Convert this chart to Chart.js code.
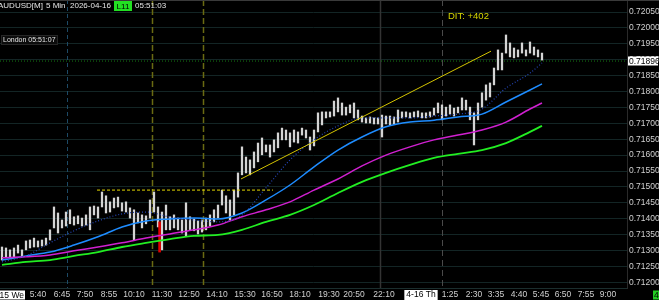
<!DOCTYPE html>
<html>
<head>
<meta charset="utf-8">
<script src="https://cdn.jsdelivr.net/npm/chart.js@4"></script>
<style>
  body { margin: 0; background: #000; }
  canvas { display: block; }
</style>
</head>
<body>
<canvas id="chart" width="659" height="300"></canvas>
<script>
// AUDUSD 5 min bars, high / low per bar
const highs = [
  0.71311, 0.71308, 0.71302, 0.71308, 0.71317, 0.71302, 0.71330, 0.71333, 0.71339, 0.71330,
  0.71333, 0.71339, 0.71365, 0.71437, 0.71418, 0.71396, 0.71421, 0.71428, 0.71406, 0.71409,
  0.71402, 0.71412, 0.71437, 0.71440, 0.71437, 0.71484, 0.71472, 0.71453, 0.71465, 0.71468,
  0.71450, 0.71453, 0.71434, 0.71428, 0.71418, 0.71412, 0.71409, 0.71459, 0.71484, 0.71437,
  0.71421, 0.71443, 0.71406, 0.71412, 0.71402, 0.71396, 0.71450, 0.71406, 0.71399, 0.71393,
  0.71396, 0.71402, 0.71412, 0.71428, 0.71443, 0.71490, 0.71472, 0.71459, 0.71490, 0.71544,
  0.71626, 0.71594, 0.71585, 0.71610, 0.71638, 0.71654, 0.71632, 0.71632, 0.71648, 0.71670,
  0.71685, 0.71679, 0.71670, 0.71679, 0.71673, 0.71685, 0.71679, 0.71657, 0.71679, 0.71733,
  0.71736, 0.71736, 0.71736, 0.71770, 0.71780, 0.71764, 0.71751, 0.71758, 0.71764, 0.71742,
  0.71723, 0.71717, 0.71720, 0.71717, 0.71717, 0.71726, 0.71723, 0.71723, 0.71720, 0.71742,
  0.71736, 0.71736, 0.71733, 0.71736, 0.71739, 0.71733, 0.71733, 0.71736, 0.71748, 0.71764,
  0.71758, 0.71751, 0.71758, 0.71748, 0.71751, 0.71780, 0.71773, 0.71751, 0.71733, 0.71764,
  0.71796, 0.71821, 0.71827, 0.71874, 0.71931, 0.71921, 0.71978, 0.71953, 0.71937, 0.71931,
  0.71953, 0.71931, 0.71956, 0.71940, 0.71931, 0.71921
];
const lows = [
  0.71270, 0.71277, 0.71277, 0.71280, 0.71292, 0.71280, 0.71302, 0.71308, 0.71311, 0.71311,
  0.71314, 0.71317, 0.71333, 0.71371, 0.71355, 0.71371, 0.71377, 0.71384, 0.71380, 0.71384,
  0.71377, 0.71380, 0.71365, 0.71412, 0.71402, 0.71437, 0.71418, 0.71421, 0.71434, 0.71437,
  0.71424, 0.71421, 0.71402, 0.71333, 0.71387, 0.71371, 0.71384, 0.71402, 0.71421, 0.71374,
  0.71302, 0.71365, 0.71365, 0.71371, 0.71365, 0.71355, 0.71346, 0.71365, 0.71362, 0.71352,
  0.71358, 0.71365, 0.71377, 0.71390, 0.71402, 0.71443, 0.71418, 0.71396, 0.71412, 0.71468,
  0.71538, 0.71544, 0.71538, 0.71560, 0.71579, 0.71601, 0.71610, 0.71594, 0.71610, 0.71623,
  0.71648, 0.71648, 0.71626, 0.71641, 0.71638, 0.71663, 0.71654, 0.71616, 0.71629, 0.71673,
  0.71695, 0.71717, 0.71720, 0.71723, 0.71736, 0.71726, 0.71726, 0.71733, 0.71717, 0.71711,
  0.71704, 0.71701, 0.71701, 0.71698, 0.71698, 0.71657, 0.71698, 0.71695, 0.71698, 0.71704,
  0.71717, 0.71720, 0.71717, 0.71720, 0.71720, 0.71717, 0.71717, 0.71720, 0.71726, 0.71733,
  0.71711, 0.71723, 0.71729, 0.71723, 0.71733, 0.71742, 0.71742, 0.71711, 0.71632, 0.71711,
  0.71751, 0.71773, 0.71783, 0.71821, 0.71868, 0.71868, 0.71921, 0.71909, 0.71906, 0.71909,
  0.71921, 0.71912, 0.71921, 0.71915, 0.71909, 0.71899
];

// moving averages, sampled every 6 bars
const maIdx = [0, 6, 12, 18, 24, 30, 36, 42, 48, 54, 60, 66, 72, 78, 84, 90, 96, 102, 108, 114, 120, 126, 132, 135];
const maFast = [
  0.71264, 0.71283, 0.71324, 0.71362, 0.71393, 0.71415, 0.71421, 0.71405, 0.71396, 0.71390,
  0.71412, 0.71497, 0.71585, 0.71648, 0.71692, 0.71717, 0.71717, 0.71717, 0.71723, 0.71729,
  0.71745, 0.71811, 0.71858, 0.71890
];
const maBlue = [
  0.71270, 0.71283, 0.71295, 0.71317, 0.71343, 0.71374, 0.71393, 0.71399, 0.71402, 0.71399,
  0.71418, 0.71459, 0.71506, 0.71563, 0.71616, 0.71657, 0.71689, 0.71704, 0.71710, 0.71720,
  0.71729, 0.71767, 0.71805, 0.71824
];
const maMagenta = [
  0.71277, 0.71280, 0.71286, 0.71299, 0.71311, 0.71324, 0.71339, 0.71352, 0.71365, 0.71380,
  0.71406, 0.71428, 0.71453, 0.71490, 0.71525, 0.71566, 0.71600, 0.71626, 0.71648, 0.71663,
  0.71679, 0.71704, 0.71745, 0.71764
];
const maGreen = [
  0.71255, 0.71264, 0.71270, 0.71283, 0.71295, 0.71311, 0.71324, 0.71336, 0.71346, 0.71349,
  0.71365, 0.71390, 0.71412, 0.71443, 0.71481, 0.71516, 0.71544, 0.71569, 0.71591, 0.71604,
  0.71616, 0.71638, 0.71673, 0.71692
];

// drawn objects
const levelIdx = [23.75, 67.75];
const levelPrice = [0.71490, 0.71490];
const trendIdx = [59.75, 122.25];
const trendPrice = [0.71525, 0.71927];
const signalIdx = 39.4;
const signalRange = [0.71295, 0.71390];
const sessionMarks = [16.25, 37.4, 50.25, 94.5, 110];
const lastPrice = 0.71896;

// axes
const timeIdx = [9, 15, 20.75, 26.75, 33, 40, 46.75, 53.75, 60.75, 67.5, 74.5, 81.75, 88, 95.5,
  104.75, 112, 118, 123.5, 129.25, 134.75, 140.25, 146, 151.5];
const timeLabels = ['5:40', '6:45', '7:50', '8:55', '10:10', '11:30', '12:50', '14:10', '15:30',
  '16:50', '18:10', '19:30', '20:50', '22:10', '4-16 Th', '1:25', '2:30', '3:35', '4:40', '5:45',
  '6:50', '7:55', '9:00'];
const priceTicks = [0.712, 0.7125, 0.713, 0.7135, 0.714, 0.7145, 0.715, 0.7155, 0.716,
  0.7165, 0.717, 0.7175, 0.718, 0.7185, 0.719, 0.7195, 0.72, 0.7205];

const X_MIN = -0.5, X_MAX = 156.25;
const FONT = '"Liberation Sans", Arial, sans-serif';

Chart.defaults.font.family = FONT;
Chart.defaults.font.size = 8.5;

const pts = (xs, ys) => xs.map((x, i) => ({ x: x, y: ys[i] }));

function maLine(values, color, width, dash) {
  return {
    type: 'line',
    data: pts(maIdx, values),
    borderColor: color,
    borderWidth: width,
    borderDash: dash || [],
    pointRadius: 0,
    cubicInterpolationMode: 'monotone',
    order: 1
  };
}

const sessionStyles = [
  { color: '#1d4a66', dash: [4, 3], width: 1 },
  { color: '#6a6a12', dash: [6, 3], width: 1.5 },
  { color: '#6a6a12', dash: [6, 3], width: 1.5 },
  { color: '#333333', dash: [], width: 1.5 },
  { color: '#4a4a4a', dash: [6, 4], width: 1 }
];

function box(ctx, x, y, w, h, bg, text, fg, align, tx) {
  ctx.fillStyle = bg;
  ctx.fillRect(x, y, w, h);
  ctx.fillStyle = fg;
  ctx.textAlign = align;
  ctx.fillText(text, tx, y + h / 2 + 0.5);
}

const overlay = {
  id: 'overlay',
  beforeDatasetsDraw(chart) {
    const ctx = chart.ctx;
    const xs = chart.scales.x;
    const area = chart.chartArea;
    ctx.save();
    sessionMarks.forEach((m, i) => {
      const st = sessionStyles[i];
      const px = Math.round(xs.getPixelForValue(m)) + 0.5;
      ctx.strokeStyle = st.color;
      ctx.lineWidth = st.width;
      ctx.setLineDash(st.dash);
      ctx.beginPath();
      ctx.moveTo(px, area.top);
      ctx.lineTo(px, area.bottom);
      ctx.stroke();
    });
    ctx.restore();
  },
  afterDraw(chart) {
    const ctx = chart.ctx;
    const ys = chart.scales.y;
    ctx.save();
    ctx.setLineDash([]);
    ctx.fillStyle = '#3a3a3a';
    ctx.fillRect(0, 0, chart.width, 1);

    ctx.textBaseline = 'middle';
    ctx.font = '8px ' + FONT;
    ctx.textAlign = 'left';
    ctx.fillStyle = '#e6e6e6';
    ctx.fillText('AUDUSD[M]', -2, 6);
    ctx.fillText('5 Min', 46, 6);
    ctx.fillText('2026-04-16', 70, 6);
    ctx.fillText('05:51:03', 135, 6);
    box(ctx, 114, 1, 18, 10, '#22e022', 'L11', '#000', 'center', 123);

    // session clock
    ctx.font = '7px ' + FONT;
    ctx.fillStyle = '#0c0c0c';
    ctx.fillRect(1, 35, 56, 9);
    ctx.strokeStyle = '#262626';
    ctx.lineWidth = 1;
    ctx.strokeRect(1.5, 35.5, 56, 9);
    ctx.fillStyle = '#e6e6e6';
    ctx.textAlign = 'left';
    ctx.fillText('London 05:51:07', 3, 40);

    ctx.font = '9.5px ' + FONT;
    ctx.fillStyle = '#d6d600';
    ctx.fillText('DIT: +402', 448, 16);

    // current price tag
    ctx.font = '8.5px ' + FONT;
    const py = Math.round(ys.getPixelForValue(lastPrice));
    box(ctx, 628, py - 4.5, 30, 9, '#ffffff', lastPrice.toFixed(5), '#000', 'left', 629);

    // date stubs at the bottom corners
    box(ctx, 0, 290.5, 25, 9, '#ffffff', '4-15 We', '#000', 'right', 24);
    box(ctx, 653, 290.5, 6, 9, '#22cc22', '4', '#000', 'left', 654);
    ctx.restore();
  }
};

new Chart(document.getElementById('chart'), {
  type: 'bar',
  data: {
    datasets: [
      {
        data: highs.map((h, i) => ({ x: i, y: [lows[i], h] })),
        backgroundColor: '#d4d4d4',
        barThickness: 1.6,
        grouped: false,
        order: 3
      },
      {
        data: [{ x: signalIdx, y: signalRange }],
        backgroundColor: '#e00000',
        barThickness: 2,
        grouped: false,
        order: 2
      },
      maLine(maFast, '#2446b8', 1.2, [1, 2]),
      maLine(maGreen, '#22ee22', 1.8),
      maLine(maMagenta, '#d020d0', 1.5),
      maLine(maBlue, '#1e8cff', 1.5),
      {
        type: 'line',
        data: pts(levelIdx, levelPrice),
        borderColor: '#e6d800',
        borderWidth: 1,
        borderDash: [3, 2],
        pointRadius: 0,
        order: 0
      },
      {
        type: 'line',
        data: pts(trendIdx, trendPrice),
        borderColor: '#d4c400',
        borderWidth: 1,
        pointRadius: 0,
        order: 0
      },
      {
        type: 'line',
        data: [{ x: X_MIN, y: lastPrice }, { x: X_MAX, y: lastPrice }],
        borderColor: '#167a16',
        borderWidth: 1,
        borderDash: [1, 2],
        pointRadius: 0,
        order: 4
      }
    ]
  },
  options: {
    responsive: false,
    animation: false,
    events: [],
    layout: { padding: 0 },
    plugins: { legend: { display: false }, tooltip: { enabled: false } },
    scales: {
      x: {
        type: 'linear',
        min: X_MIN,
        max: X_MAX,
        offset: false,
        afterBuildTicks: (s) => { s.ticks = timeIdx.map(v => ({ value: v })); },
        afterFit: (s) => { s.height = 12; s.paddingLeft = 0; s.paddingRight = 0; },
        grid: { display: false, drawTicks: false },
        border: { display: true, color: '#1b2e2e' },
        ticks: {
          autoSkip: false,
          maxRotation: 0,
          minRotation: 0,
          padding: 2,
          callback: (v, i) => timeLabels[i],
          color: (c) => timeLabels[c.index] === '4-16 Th' ? '#000' : '#d0d0d0',
          showLabelBackdrop: true,
          backdropColor: (c) => timeLabels[c.index] === '4-16 Th' ? '#ffffff' : 'rgba(0,0,0,0)',
          backdropPadding: { x: 2, y: 0 }
        }
      },
      y: {
        position: 'right',
        min: 0.71182,
        max: 0.72088,
        afterBuildTicks: (s) => { s.ticks = priceTicks.map(v => ({ value: v })); },
        afterFit: (s) => { s.width = 32; s.paddingTop = 0; s.paddingBottom = 0; },
        grid: { color: '#132525', drawTicks: false },
        border: { display: true, color: '#2a2a2a' },
        ticks: {
          padding: 2,
          color: '#d0d0d0',
          callback: (v) => Number(v).toFixed(5)
        }
      }
    }
  },
  plugins: [overlay]
});
</script>
</body>
</html>
